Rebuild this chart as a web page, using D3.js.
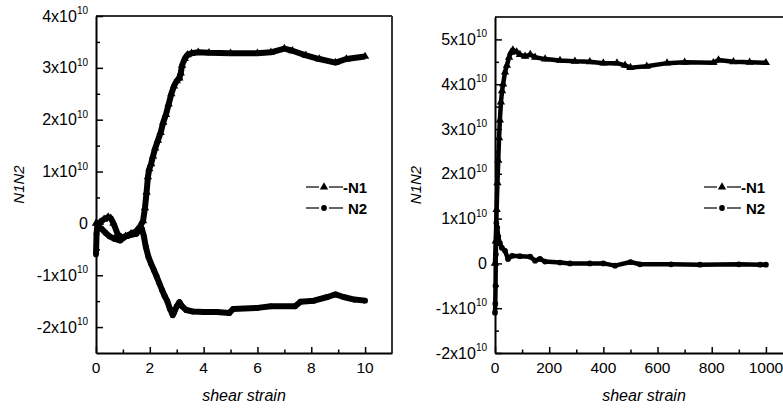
<!DOCTYPE html>
<html lang="en">
<head>
  <meta charset="utf-8">
  <script src="https://d3js.org/d3.v7.min.js"></script>
  <style>
    body { margin: 0; background: #fff; }
    svg { display: block; font-family: "Liberation Sans", Arial, sans-serif; }
  </style>
</head>
<body>
<svg id="chart" width="783" height="410"></svg>
<script>
  // left panel: shear strain 0..10
  var leftN1 = [[0,0],[0.15,0.02],[0.3,0.08],[0.45,0.12],[0.55,0.1],[0.65,0.0],[0.8,-0.2],[0.95,-0.28],
    [1.1,-0.25],[1.3,-0.2],[1.5,-0.15],[1.65,-0.05],[1.75,0.05],[1.82,0.3],[1.88,0.6],[1.93,0.9],
    [1.98,1.05],[2.05,1.15],[2.12,1.3],[2.2,1.45],[2.3,1.6],[2.4,1.75],[2.5,1.95],[2.6,2.1],[2.7,2.3],
    [2.8,2.5],[2.9,2.65],[3.0,2.75],[3.1,2.8],[3.15,2.9],[3.2,3.05],[3.3,3.18],[3.4,3.25],[3.55,3.28],
    [3.8,3.3],[4.2,3.29],[5,3.28],[6,3.28],[6.5,3.3],[7,3.37],[7.3,3.33],[7.8,3.24],[8.3,3.17],
    [8.9,3.1],[9.3,3.17],[10,3.22]];
  var leftN2 = [[0,-0.6],[0.02,-0.2],[0.05,-0.05],[0.2,-0.1],[0.35,-0.18],[0.5,-0.25],[0.7,-0.3],
    [0.9,-0.33],[1.1,-0.25],[1.3,-0.22],[1.5,-0.2],[1.6,-0.12],[1.7,-0.1],[1.78,-0.25],[1.85,-0.45],
    [1.95,-0.65],[2.05,-0.78],[2.15,-0.9],[2.25,-1.02],[2.35,-1.15],[2.45,-1.28],[2.55,-1.4],
    [2.65,-1.5],[2.75,-1.65],[2.85,-1.77],[2.9,-1.72],[3.0,-1.6],[3.1,-1.52],[3.2,-1.6],[3.35,-1.67],
    [3.6,-1.7],[4.0,-1.71],[4.5,-1.71],[4.95,-1.73],[5.1,-1.65],[6.0,-1.63],[6.5,-1.6],[7.4,-1.6],
    [7.6,-1.51],[8.1,-1.49],[8.6,-1.42],[8.9,-1.37],[9.2,-1.42],[9.6,-1.47],[10,-1.49]];

  // right panel: shear strain 0..1000
  var rightN1 = [[0,0],[3,0.5],[6,1.2],[9,1.8],[12,2.3],[15,2.8],[18,3.2],[22,3.6],[26,3.85],[30,4.0],
    [37,4.27],[44,4.42],[52,4.6],[59,4.71],[66,4.76],[80,4.72],[92,4.66],[111,4.62],[130,4.66],
    [148,4.6],[185,4.56],[240,4.53],[295,4.51],[350,4.5],[400,4.47],[450,4.47],[480,4.42],[500,4.37],
    [560,4.4],[635,4.47],[700,4.49],[806,4.48],[825,4.54],[880,4.5],[940,4.49],[1000,4.48]];
  var rightN2 = [[0,-1.1],[1,-0.9],[2,-0.5],[3,0.2],[5,0.9],[8,0.8],[12,0.6],[18,0.45],[25,0.35],[37,0.28],
    [48,0.1],[63,0.17],[92,0.16],[130,0.15],[148,0.06],[166,0.1],[185,0.04],[240,0.02],[277,0.0],
    [350,0.0],[400,0.0],[443,-0.05],[500,0.03],[535,-0.02],[650,-0.02],[757,-0.03],[900,-0.02],
    [979,-0.03],[1000,-0.03]];

  // tick values (y in units of 1e10)
  var leftXTicks = [0, 2, 4, 6, 8, 10];
  var leftXMinor = [1, 3, 5, 7, 9];
  var leftYTicks = [-2, -1, 0, 1, 2, 3, 4];
  var leftYMinor = [-1.5, -0.5, 0.5, 1.5, 2.5, 3.5];
  var rightXTicks = [0, 200, 400, 600, 800, 1000];
  var rightXMinor = [100, 300, 500, 700, 900];
  var rightYTicks = [-2, -1, 0, 1, 2, 3, 4, 5];
  var rightYMinor = [-1.5, -0.5, 0.5, 1.5, 2.5, 3.5, 4.5];
  var seriesNames = ["N1", "N2"];

  var svg = d3.select("#chart");

  function drawPanel(p) {
    var x = d3.scaleLinear().domain(p.xDomain).range([p.left, p.right]);
    var y = d3.scaleLinear().domain(p.yDomain).range([p.bottom, p.top]);
    var g = svg.append("g");

    // frame top / right
    g.append("line").attr("x1", p.left).attr("x2", p.right).attr("y1", p.top).attr("y2", p.top)
      .attr("stroke", "#333").attr("stroke-width", 2);
    g.append("line").attr("x1", p.right).attr("x2", p.right).attr("y1", p.top).attr("y2", p.bottom)
      .attr("stroke", "#333").attr("stroke-width", 2);

    // axes with inward ticks
    g.append("g").attr("transform", "translate(0," + p.bottom + ")")
      .call(d3.axisBottom(x).tickValues(p.xTicks).tickSizeInner(-6).tickSizeOuter(0).tickFormat(""));
    g.append("g").attr("transform", "translate(0," + p.bottom + ")")
      .call(d3.axisBottom(x).tickValues(p.xMinor).tickSizeInner(-3.5).tickSizeOuter(0).tickFormat(""))
      .select(".domain").remove();
    g.append("g").attr("transform", "translate(" + p.left + ",0)")
      .call(d3.axisLeft(y).tickValues(p.yTicks).tickSizeInner(-7).tickSizeOuter(0).tickFormat(""));
    g.append("g").attr("transform", "translate(" + p.left + ",0)")
      .call(d3.axisLeft(y).tickValues(p.yMinor).tickSizeInner(-4).tickSizeOuter(0).tickFormat(""))
      .select(".domain").remove();
    g.selectAll(".domain").attr("stroke", "#000").attr("stroke-width", 2);
    g.selectAll(".tick line").attr("stroke", "#000").attr("stroke-width", 1.5);

    // x tick labels
    g.selectAll(".xlab").data(p.xTicks).enter().append("text")
      .attr("x", function(d) { return x(d); }).attr("y", p.bottom + 20)
      .attr("text-anchor", "middle").attr("font-size", 15.5).text(function(d) { return d; });

    // y tick labels with superscript exponent
    g.selectAll(".ylab").data(p.yTicks).enter().append("text")
      .attr("x", p.left - 8).attr("y", function(d) { return y(d) + 5.5; })
      .attr("text-anchor", "end").attr("font-size", 16)
      .each(function(d) {
        var t = d3.select(this);
        if (d === 0) { t.text("0"); return; }
        t.append("tspan").text(d + "x10");
        t.append("tspan").attr("dy", -7.5).attr("font-size", 10).text("10");
      });

    // axis titles
    g.append("text").attr("x", (p.left + p.right) / 2).attr("y", 401)
      .attr("text-anchor", "middle").attr("font-size", 16).attr("font-style", "italic")
      .text("shear strain");
    g.append("text").attr("transform", "translate(" + p.yTitleX + "," + ((p.top + p.bottom) / 2) + ") rotate(-90)")
      .attr("text-anchor", "middle").attr("font-size", 15).attr("font-style", "italic")
      .text("N1N2");

    var line = d3.line().x(function(d) { return x(d[0]); }).y(function(d) { return y(d[1]); });
    var tri = d3.symbol(d3.symbolTriangle).size(30);
    var dot = d3.symbol(d3.symbolCircle).size(26);

    [p.n2, p.n1].forEach(function(data, i) {
      g.append("path").datum(data).attr("d", line).attr("fill", "none")
        .attr("stroke", "#000").attr("stroke-width", p.lineWidth).attr("stroke-linejoin", "round");
      g.selectAll(null).data(data).enter().append("path")
        .attr("d", i === 0 ? dot : tri)
        .attr("transform", function(d) { return "translate(" + x(d[0]) + "," + y(d[1]) + ")"; })
        .attr("fill", "#000");
    });

    // legend
    seriesNames.forEach(function(name, i) {
      var ly = p.legendY + i * 21;
      var lx = p.legendX;
      g.append("line").attr("x1", lx).attr("x2", lx + 13).attr("y1", ly).attr("y2", ly)
        .attr("stroke", "#000").attr("stroke-width", 1.2);
      g.append("line").attr("x1", lx + 23).attr("x2", lx + 37).attr("y1", ly).attr("y2", ly)
        .attr("stroke", "#000").attr("stroke-width", 1.2);
      g.append("path").attr("d", i === 0 ? tri : dot)
        .attr("transform", "translate(" + (lx + 18) + "," + ly + ")").attr("fill", "#000");
      g.append("text").attr("x", i === 0 ? lx + 37 : lx + 42).attr("y", ly + 5.5)
        .attr("font-size", 15).attr("font-weight", "bold")
        .text(i === 0 ? "-" + name : name);
    });
  }

  drawPanel({
    left: 96, right: 392, top: 16, bottom: 353,
    xDomain: [0, 11], yDomain: [-2.5, 4],
    xTicks: leftXTicks, xMinor: leftXMinor, yTicks: leftYTicks, yMinor: leftYMinor,
    n1: leftN1, n2: leftN2, lineWidth: 6,
    yTitleX: 23.5, legendX: 306, legendY: 187
  });

  drawPanel({
    left: 495, right: 793, top: 17, bottom: 353,
    xDomain: [0, 1100], yDomain: [-2, 5.5],
    xTicks: rightXTicks, xMinor: rightXMinor, yTicks: rightYTicks, yMinor: rightYMinor,
    n1: rightN1, n2: rightN2, lineWidth: 4.5,
    yTitleX: 421, legendX: 704, legendY: 187
  });
</script>
</body>
</html>
